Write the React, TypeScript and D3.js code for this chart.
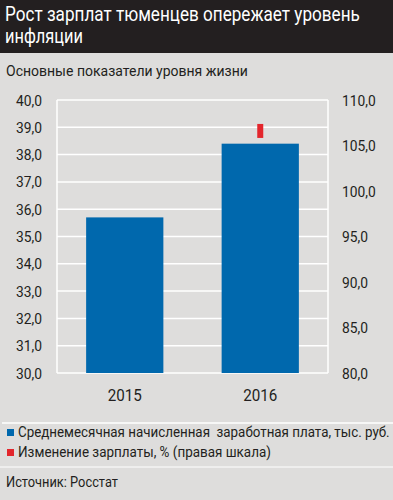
import React, { useEffect, useRef } from "react";
import * as d3 from "d3";

const years = ["2015", "2016"];
const salary = [35.7, 38.4]; // тыс. руб.
const salaryChange = [null, 106.6]; // %, правая шкала
const leftTicks = [30, 31, 32, 33, 34, 35, 36, 37, 38, 39, 40];
const rightTicks = [80, 85, 90, 95, 100, 105, 110];
const legendLabels = [
  "Среднемесячная начисленная  заработная плата, тыс. руб.",
  "Изменение зарплаты, % (правая шкала)",
];

const FONT = "Roboto, 'Noto Sans', sans-serif";
const INK = "#231f20";

const App = () => {
  const ref = useRef(null);

  useEffect(() => {
    document.body.style.margin = "0";
    const root = d3.select(ref.current);
    root.selectAll("*").remove();

    const width = 393;
    const height = 500;
    const margin = { top: 100, right: 65, bottom: 127, left: 57 };

    const svg = root
      .append("svg")
      .attr("width", width)
      .attr("height", height)
      .style("display", "block")
      .attr("font-family", FONT);

    svg.append("rect").attr("width", width).attr("height", height).attr("fill", "#dedddc");

    // condensed look: squeeze each text horizontally to the width it has in the original
    const label = (txt, xPos, yPos, size, len, fill = INK) => {
      const t = svg
        .append("text")
        .attr("font-size", size)
        .attr("fill", fill)
        .style("white-space", "pre")
        .text(txt);
      const natural = t.node().getComputedTextLength() || len;
      t.attr("transform", `translate(${xPos},${yPos}) scale(${len / natural},1)`);
      return t;
    };

    // title bar
    svg.append("rect").attr("width", width).attr("height", 53).attr("fill", INK);
    label("Рост зарплат тюменцев опережает уровень", 5, 21, 20, 355, "#fff");
    label("инфляции", 5, 43, 20, 78, "#fff");

    label("Основные показатели уровня жизни", 6, 76, 15.5, 242);

    const x = d3
      .scaleBand()
      .domain(years)
      .range([margin.left, width - margin.right])
      .paddingInner(0.43)
      .paddingOuter(0.215);
    const y = d3.scaleLinear().domain([30, 40]).range([height - margin.bottom, margin.top]);
    const y2 = d3.scaleLinear().domain([80, 110]).range([height - margin.bottom, margin.top]);

    // grid
    svg
      .append("g")
      .selectAll("line")
      .data(leftTicks)
      .join("line")
      .attr("x1", margin.left)
      .attr("x2", width - margin.right)
      .attr("y1", (d) => y(d))
      .attr("y2", (d) => y(d))
      .attr("stroke", "#fff")
      .attr("stroke-width", 1.5);
    svg
      .append("g")
      .selectAll("line")
      .data([margin.left, width - margin.right])
      .join("line")
      .attr("x1", (d) => d)
      .attr("x2", (d) => d)
      .attr("y1", y(30))
      .attr("y2", y(40))
      .attr("stroke", "#fff")
      .attr("stroke-width", 1.5);

    const fmt = (d) => d3.format(".1f")(d).replace(".", ",");

    // left axis labels
    svg
      .append("g")
      .attr("font-size", 15)
      .attr("fill", INK)
      .attr("text-anchor", "end")
      .selectAll("text")
      .data(leftTicks)
      .join("text")
      .attr("transform", (d) => `translate(42,${y(d) + 5.5}) scale(0.92,1)`)
      .text(fmt);

    // right axis labels
    svg
      .append("g")
      .attr("font-size", 15)
      .attr("fill", INK)
      .selectAll("text")
      .data(rightTicks)
      .join("text")
      .attr("transform", (d) => `translate(342,${y2(d) + 5.5}) scale(0.92,1)`)
      .text(fmt);

    // bars
    svg
      .append("g")
      .selectAll("rect")
      .data(salary)
      .join("rect")
      .attr("x", (_, i) => x(years[i]))
      .attr("width", x.bandwidth())
      .attr("y", (d) => y(d))
      .attr("height", (d) => y(30) - y(d))
      .attr("fill", "#0068ad");

    // red markers (right scale)
    svg
      .append("g")
      .selectAll("rect")
      .data(salaryChange.map((v, i) => ({ v, year: years[i] })).filter((d) => d.v != null))
      .join("rect")
      .attr("x", (d) => x(d.year) + x.bandwidth() / 2 - 3)
      .attr("y", (d) => y2(d.v) - 7)
      .attr("width", 6)
      .attr("height", 14)
      .attr("fill", "#e3262c");

    // x labels
    svg
      .append("g")
      .attr("font-size", 16)
      .attr("fill", INK)
      .attr("text-anchor", "middle")
      .selectAll("text")
      .data(years)
      .join("text")
      .attr("transform", (d) => `translate(${x(d) + x.bandwidth() / 2},401) scale(0.95,1)`)
      .text((d) => d);

    // separators
    svg.append("line").attr("x1", 2).attr("x2", width).attr("y1", 423).attr("y2", 423).attr("stroke", "#fff").attr("stroke-width", 1.5);
    svg.append("line").attr("x1", 0).attr("x2", width).attr("y1", 467).attr("y2", 467).attr("stroke", "#fff").attr("stroke-width", 1);

    // legend
    const colors = ["#0068ad", "#e3262c"];
    const legendLen = [372, 253];
    legendLabels.forEach((txt, i) => {
      svg
        .append("rect")
        .attr("x", 7)
        .attr("y", 429 + i * 20)
        .attr("width", 7)
        .attr("height", 7)
        .attr("fill", colors[i]);
      label(txt, 18, 437 + i * 20, 14, legendLen[i]);
    });

    label("Источник: Росстат", 6, 487, 14.5, 112);
  }, []);

  return <div ref={ref}></div>;
};

export default App;
